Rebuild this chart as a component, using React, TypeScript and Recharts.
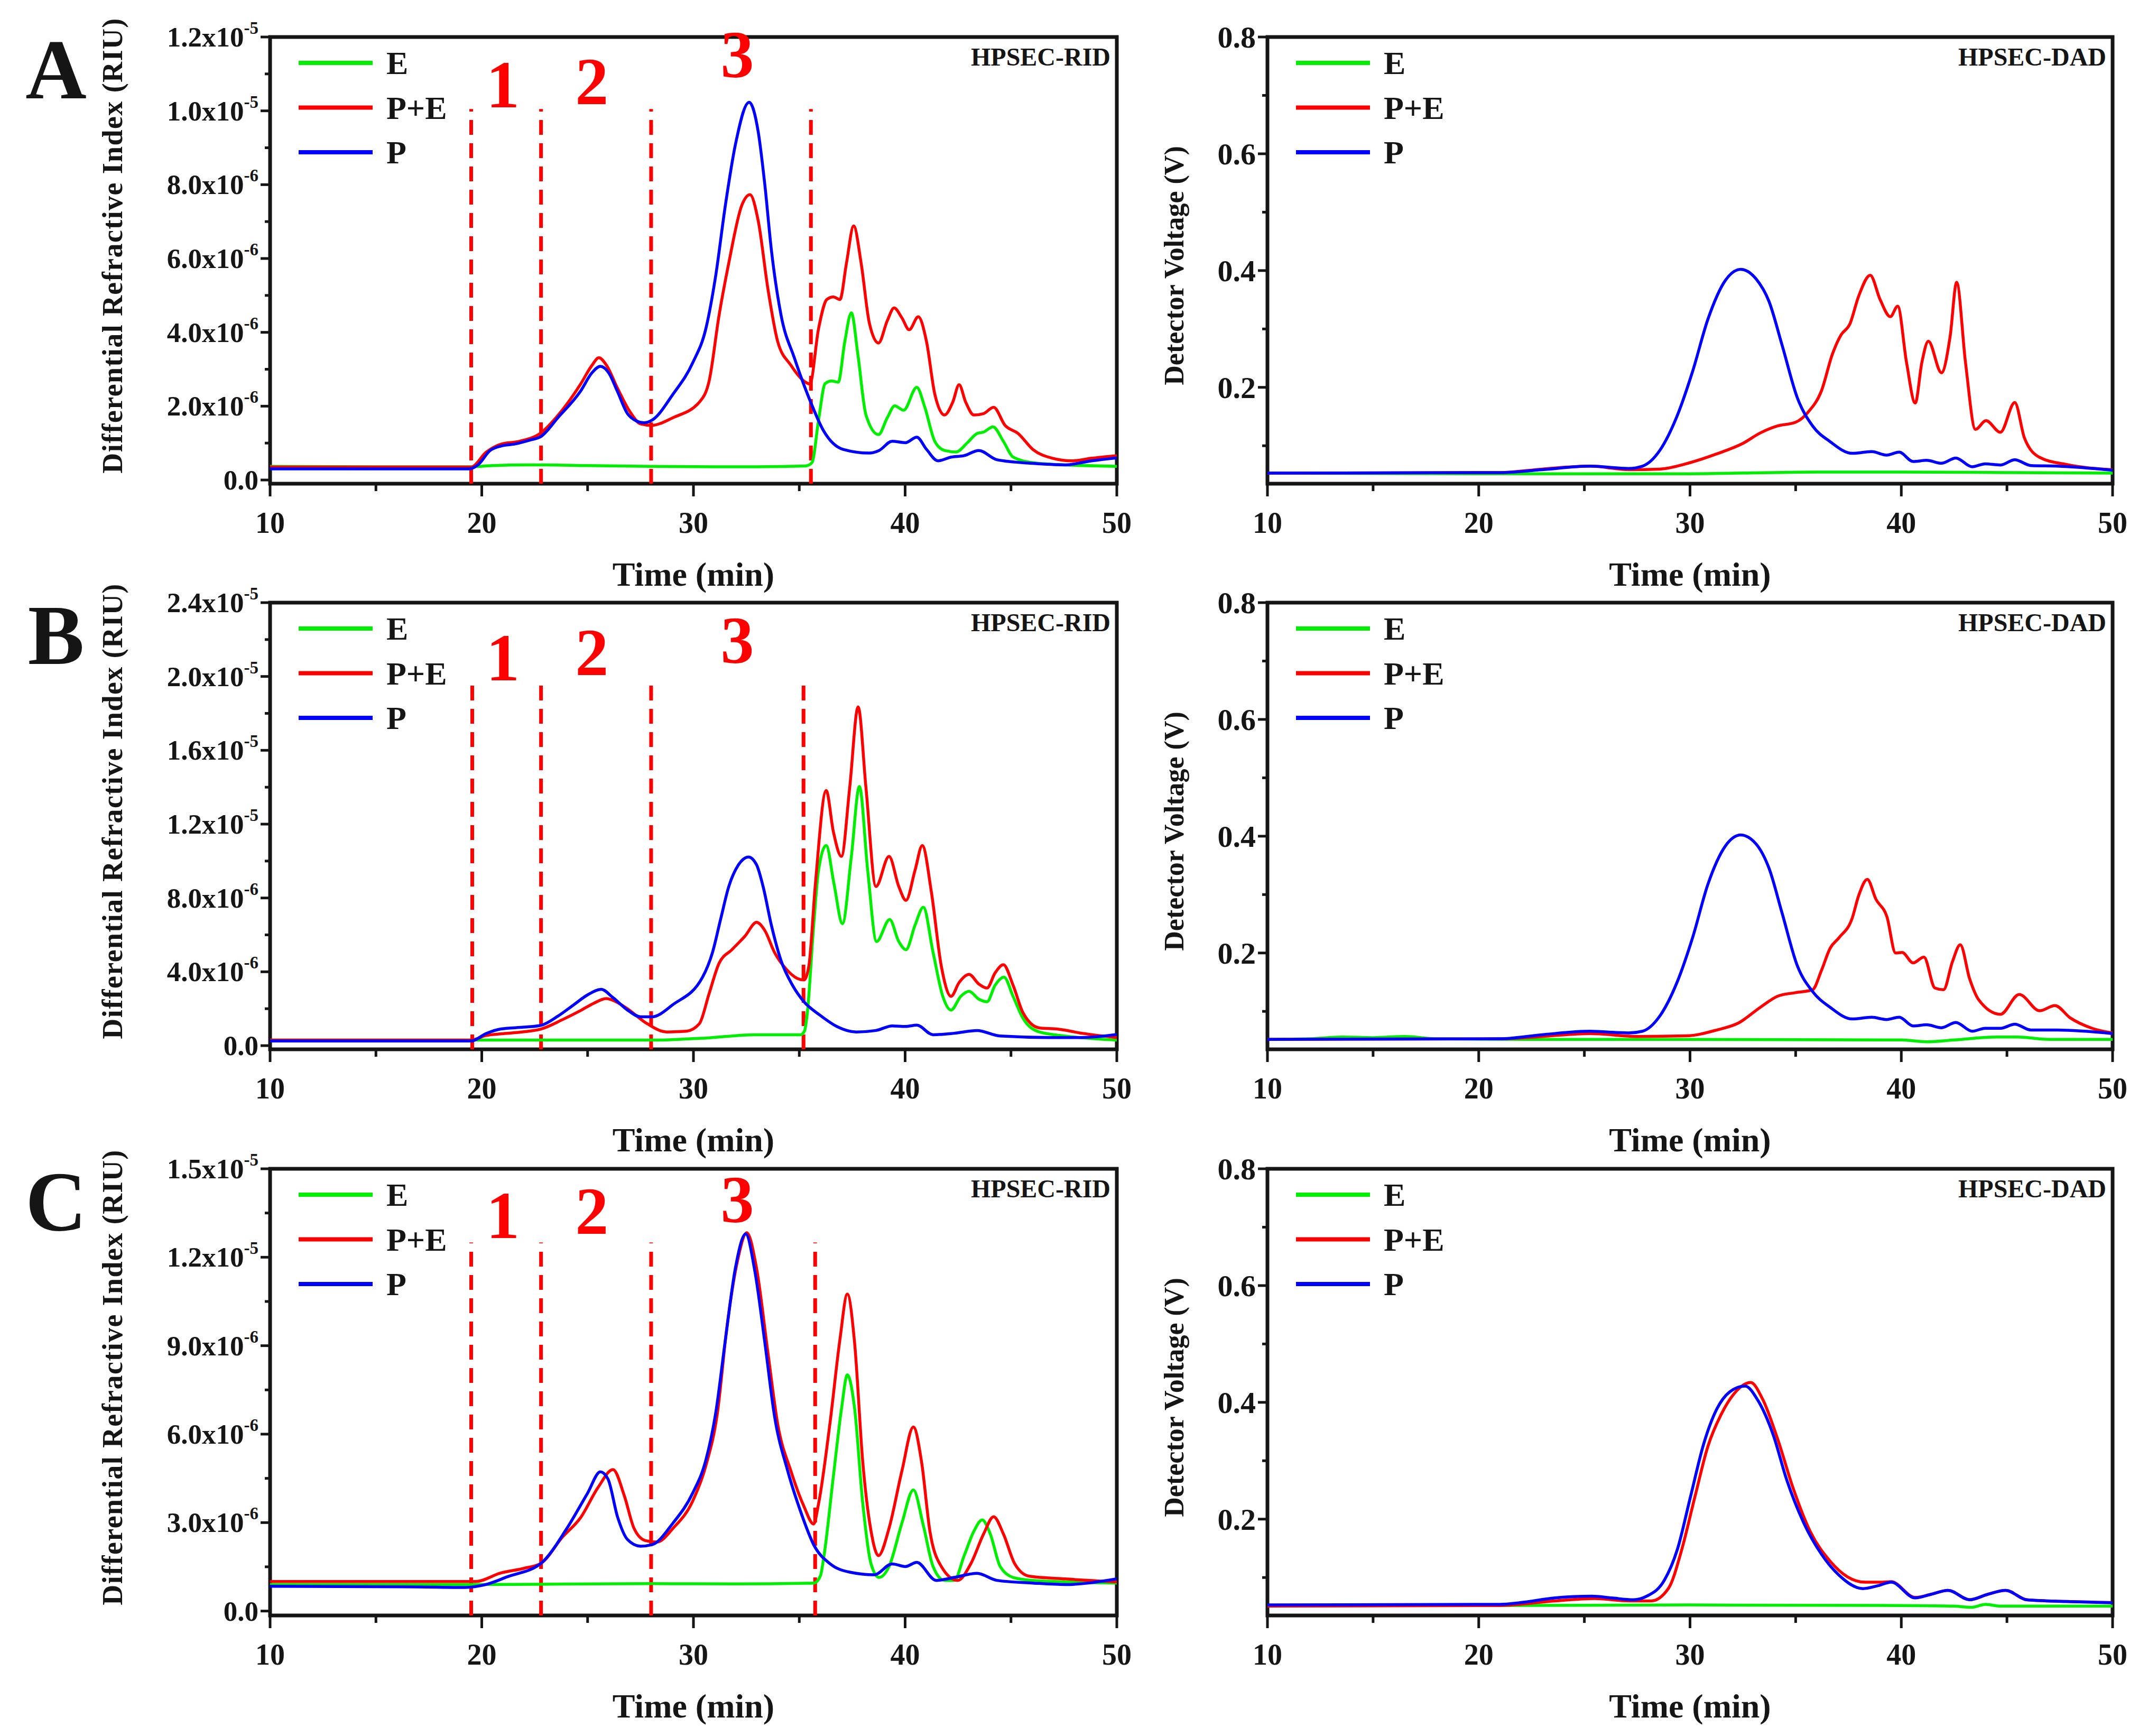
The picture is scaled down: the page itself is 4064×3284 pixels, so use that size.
import React from 'react';
import {
  Legend,
  Line,
  LineChart,
  ReferenceArea,
  ReferenceDot,
  ReferenceLine,
  XAxis,
  YAxis,
} from 'recharts';

type Pt = [number, number];

const FONT = '"Liberation Serif", "Times New Roman", serif';
const INK = '#151515';
const CUT_RED = '#ff0000';
const SERIES_NAMES = ['E', 'P+E', 'P'];
const SERIES_COLORS = ['#00ee00', '#ff0000', '#0000ff'];

const timeTicks = [10, 15, 20, 25, 30, 35, 40, 45, 50];
const ridTicksA = [0, 1, 2, 3, 4, 5, 6, 7, 8, 9, 10, 11, 12];
const ridTicksB = [0, 2, 4, 6, 8, 10, 12, 14, 16, 18, 20, 22, 24];
const ridTicksC = [0, 1.5, 3, 4.5, 6, 7.5, 9, 10.5, 12, 13.5, 15];
const dadTicks = [0.1, 0.2, 0.3, 0.4, 0.5, 0.6, 0.7, 0.8];

// fraction boundaries (min) and the fraction numbers above them
const cutsA = [19.5, 22.8, 28, 35.55];
const cutsB = [19.55, 22.8, 28, 35.2];
const cutsC = [19.5, 22.8, 28, 35.75];
const fractionNames = ['1', '2', '3'];
const fractionTimes = [21.0, 25.2, 32.07];
const fractionHeightsA = [10.7, 10.78, 11.52];
const fractionHeightsB = [20.99, 21.28, 21.95];
const fractionHeightsC = [13.4, 13.54, 13.95];

// RID traces, [time (min), signal in 1e-6 RIU]
const ridA_E: Pt[] = [
  [10, 0.37], [15, 0.36], [19.5, 0.36], [20.5, 0.39], [22, 0.41], [23, 0.41], [25, 0.39], [28, 0.37],
  [31, 0.36], [33, 0.36], [35.3, 0.38], [35.6, 0.47], [35.91, 1.62], [36.22, 2.61], [36.53, 2.68],
  [36.84, 2.65], [37.15, 3.75], [37.46, 4.53], [37.77, 3.39], [38.15, 1.76], [38.74, 1.23], [39.16, 1.69],
  [39.51, 2.01], [39.93, 1.89], [40.55, 2.51], [40.93, 1.97], [41.4, 1.05], [41.86, 0.8], [42.4, 0.76],
  [42.94, 1.01], [43.4, 1.26], [43.71, 1.3], [44.15, 1.44], [44.64, 1.05], [45.1, 0.62], [46.03, 0.47],
  [47.57, 0.41], [50, 0.37],
];
const ridA_PE: Pt[] = [
  [10, 0.35], [19.5, 0.35], [20.2, 0.75], [20.9, 0.97], [21.8, 1.05], [22.8, 1.28], [23.6, 1.75],
  [24.67, 2.6], [25.2, 3.1], [25.53, 3.31], [25.9, 3.1], [26.4, 2.5], [27.0, 1.85], [27.5, 1.52],
  [28.0, 1.48], [29.04, 1.69], [30.28, 2.11], [30.74, 2.68], [31.21, 4.46], [31.67, 5.88], [32.29, 7.45],
  [32.67, 7.73], [33.06, 7.02], [33.52, 5.17], [33.98, 3.75], [34.6, 3.11], [35.22, 2.68], [35.5, 2.6],
  [35.91, 4.1], [36.3, 4.89], [36.61, 4.96], [36.92, 4.89], [37.23, 5.88], [37.57, 6.88], [37.92, 5.88],
  [38.31, 4.25], [38.74, 3.71], [39.16, 4.32], [39.48, 4.66], [39.85, 4.39], [40.19, 4.07], [40.62, 4.42],
  [41.01, 3.75], [41.4, 2.33], [41.86, 1.76], [42.25, 2.11], [42.55, 2.58], [42.86, 2.11], [43.25, 1.76],
  [43.71, 1.8], [44.18, 1.97], [44.72, 1.48], [45.34, 1.26], [46.03, 0.83], [46.96, 0.59], [47.88, 0.52],
  [48.81, 0.59], [50, 0.66],
];
const ridA_P: Pt[] = [
  [10, 0.3], [19.4, 0.3], [19.8, 0.4], [20.4, 0.8], [20.9, 0.92], [21.6, 0.98], [22.27, 1.08],
  [22.8, 1.18], [23.6, 1.69], [24.67, 2.41], [25.2, 2.9], [25.6, 3.08], [26.0, 2.9], [26.4, 2.41],
  [26.88, 1.8], [27.3, 1.6], [27.65, 1.55], [28.04, 1.62], [29.04, 2.33], [29.97, 3.18], [30.59, 4.11],
  [31.05, 5.53], [31.51, 7.45], [31.98, 9.08], [32.63, 10.23], [33.06, 9.43], [33.37, 8.01], [33.68, 6.24],
  [34.14, 4.46], [34.76, 3.32], [35.53, 2.12], [36.15, 1.33], [37.07, 0.83], [38.31, 0.73], [38.77, 0.8],
  [39.39, 1.05], [40.01, 1.01], [40.55, 1.16], [41.01, 0.83], [41.55, 0.52], [42.17, 0.62], [42.79, 0.66],
  [43.48, 0.8], [44.33, 0.55], [46.03, 0.45], [47.57, 0.41], [48.81, 0.52], [50, 0.6],
];

const ridB_E: Pt[] = [
  [10, 0.3], [20, 0.3], [25, 0.3], [28, 0.3], [30.59, 0.41], [32.9, 0.59], [35.07, 0.59], [35.25, 0.8],
  [35.38, 1.78], [35.68, 6.53], [35.91, 9.51], [36.27, 10.84], [36.64, 8.76], [37.04, 6.61], [37.46, 10.25],
  [37.84, 14.04], [38.23, 9.51], [38.65, 5.64], [39.27, 6.83], [39.7, 5.64], [40.04, 5.2], [40.47, 6.53],
  [40.86, 7.5], [41.32, 5.05], [41.78, 2.67], [42.17, 1.93], [42.63, 2.67], [43.02, 2.94], [43.48, 2.52],
  [43.87, 2.38], [44.25, 3.27], [44.67, 3.71], [45.1, 2.67], [45.57, 1.48], [46.34, 0.74], [47.57, 0.52],
  [50, 0.3],
];
const ridB_PE: Pt[] = [
  [10, 0.3], [19.5, 0.3], [20.2, 0.55], [20.9, 0.64], [22, 0.75], [22.8, 0.9], [23.8, 1.4], [24.67, 1.9],
  [25.3, 2.3], [25.88, 2.55], [26.3, 2.4], [26.88, 2.0], [27.81, 1.19], [28.73, 0.74], [29.66, 0.78],
  [30.28, 1.19], [30.74, 2.82], [31.21, 4.46], [31.82, 5.2], [32.44, 5.94], [32.98, 6.68], [33.37, 6.24],
  [33.83, 5.05], [34.37, 4.16], [34.91, 3.64], [35.22, 3.56], [35.45, 4.3], [35.76, 8.76], [36.27, 13.82],
  [36.61, 11.59], [36.99, 10.25], [37.38, 13.97], [37.78, 18.35], [38.15, 13.97], [38.62, 8.62],
  [39.24, 10.25], [39.7, 8.62], [40.04, 7.87], [40.47, 9.51], [40.81, 10.84], [41.24, 8.32], [41.71, 4.3],
  [42.17, 2.67], [42.55, 3.42], [43.02, 3.86], [43.48, 3.34], [43.87, 3.12], [44.25, 3.94], [44.64, 4.38],
  [45.1, 3.27], [45.57, 1.78], [46.34, 0.96], [47.26, 0.89], [48.35, 0.67], [50, 0.44],
];
const ridB_P: Pt[] = [
  [10, 0.25], [19.5, 0.25], [20.2, 0.65], [20.9, 0.9], [22, 1.0], [22.8, 1.1], [23.6, 1.6], [24.33, 2.2],
  [25.0, 2.75], [25.64, 3.05], [26.2, 2.6], [26.88, 1.93], [27.5, 1.56], [28.04, 1.56], [29.04, 2.23],
  [30.43, 3.71], [30.9, 5.05], [31.28, 6.83], [31.67, 8.62], [32.13, 9.8], [32.6, 10.22], [32.98, 9.8],
  [33.29, 8.62], [33.68, 6.53], [34.14, 4.6], [34.68, 3.27], [35.22, 2.38], [36.0, 1.63], [36.77, 1.04],
  [37.69, 0.74], [38.62, 0.82], [39.39, 1.07], [40.01, 1.04], [40.55, 1.11], [41.32, 0.59], [42.32, 0.67],
  [43.4, 0.82], [44.48, 0.52], [46.8, 0.44], [48.35, 0.44], [50, 0.6],
];

const ridC_E: Pt[] = [
  [10, 0.9], [20, 0.9], [28, 0.93], [32, 0.92], [35.7, 0.95], [36.0, 1.2], [36.15, 1.79], [36.61, 4.57],
  [37.0, 6.89], [37.27, 8.01], [37.61, 6.89], [38.0, 3.64], [38.39, 1.6], [38.77, 1.14], [39.24, 1.51],
  [39.85, 2.99], [40.39, 4.11], [40.86, 2.9], [41.32, 1.51], [41.86, 1.04], [42.32, 1.04], [42.79, 1.88],
  [43.25, 2.71], [43.64, 3.09], [44.02, 2.62], [44.49, 1.51], [45.1, 1.14], [46.03, 1.04], [50, 0.95],
];
const ridC_PE: Pt[] = [
  [10, 1.0], [19.7, 1.0], [20.9, 1.29], [22, 1.45], [22.8, 1.62], [23.8, 2.5], [24.67, 3.17], [25.5, 4.2],
  [26.2, 4.8], [26.73, 3.92], [27.19, 2.81], [27.73, 2.39], [28.27, 2.34], [29.04, 2.81], [29.97, 3.74],
  [30.59, 4.94], [31.13, 6.71], [31.59, 9.68], [32.06, 11.81], [32.52, 12.83], [32.98, 11.63], [33.52, 8.75],
  [33.98, 6.34], [34.6, 4.76], [35.22, 3.55], [35.68, 2.95], [35.91, 3.64], [36.46, 6.43], [36.92, 9.21],
  [37.27, 10.75], [37.61, 9.12], [38.0, 5.04], [38.39, 2.71], [38.74, 1.88], [39.24, 2.81], [39.85, 4.76],
  [40.39, 6.24], [40.78, 5.04], [41.17, 2.71], [41.71, 1.51], [42.48, 1.04], [43.1, 1.6], [43.71, 2.62],
  [44.18, 3.2], [44.64, 2.62], [45.18, 1.6], [45.87, 1.18], [47.57, 1.09], [50, 0.99],
];
const ridC_P: Pt[] = [
  [10, 0.84], [17, 0.82], [19.2, 0.8], [20.2, 0.9], [21.2, 1.16], [22.8, 1.62], [24.0, 2.78], [25.0, 4.0],
  [25.6, 4.72], [25.96, 4.48], [26.42, 3.18], [26.88, 2.43], [27.5, 2.2], [28.04, 2.25], [29.04, 2.99],
  [29.97, 4.01], [30.59, 5.13], [31.05, 6.71], [31.51, 9.21], [31.98, 11.63], [32.47, 12.79], [32.9, 11.53],
  [33.37, 9.12], [33.83, 6.61], [34.45, 4.76], [35.07, 3.36], [35.68, 2.25], [36.46, 1.6], [37.38, 1.32],
  [38.54, 1.23], [39.39, 1.6], [40.01, 1.51], [40.55, 1.65], [41.47, 1.04], [42.32, 1.14], [43.4, 1.28],
  [44.33, 1.04], [46.03, 0.95], [47.57, 0.9], [50, 1.09],
];

// DAD traces, [time (min), detector voltage (V)]
const dadA_E: Pt[] = [[10, 0.053], [20, 0.052], [30, 0.052], [36, 0.055], [40, 0.055], [45, 0.054], [50, 0.053]];
const dadA_PE: Pt[] = [
  [10, 0.053], [21, 0.054], [23.0, 0.06], [25.27, 0.065], [27.1, 0.059], [28.57, 0.06], [30.0, 0.071],
  [31.26, 0.086], [32.5, 0.104], [33.33, 0.122], [34.15, 0.134], [34.98, 0.14], [35.6, 0.158], [36.22, 0.194],
  [36.74, 0.257], [37.15, 0.29], [37.56, 0.308], [37.98, 0.356], [38.53, 0.392], [39.0, 0.35], [39.48, 0.321],
  [39.83, 0.339], [40.25, 0.242], [40.66, 0.173], [40.97, 0.242], [41.28, 0.279], [41.9, 0.225],
  [42.31, 0.287], [42.62, 0.38], [43.04, 0.242], [43.51, 0.128], [44.01, 0.143], [44.69, 0.123],
  [45.37, 0.174], [45.83, 0.113], [46.55, 0.08], [47.79, 0.068], [50, 0.059],
];
const dadA_P: Pt[] = [
  [10, 0.053], [21, 0.054], [23.0, 0.059], [25.27, 0.065], [27.1, 0.061], [27.75, 0.065], [28.57, 0.092],
  [29.4, 0.152], [30.12, 0.227], [30.85, 0.317], [31.67, 0.383], [32.4, 0.402], [33.12, 0.386],
  [33.74, 0.347], [34.36, 0.272], [35.08, 0.182], [35.8, 0.134], [36.63, 0.107], [37.67, 0.087],
  [38.6, 0.09], [39.3, 0.084], [39.9, 0.089], [40.56, 0.073], [41.2, 0.075], [41.9, 0.07], [42.58, 0.079],
  [43.35, 0.064], [43.97, 0.069], [44.7, 0.067], [45.37, 0.076], [46.14, 0.066], [47.38, 0.065], [50, 0.058],
];

const dadB_E: Pt[] = [
  [10, 0.052], [12, 0.053], [13.5, 0.056], [15, 0.055], [16.5, 0.057], [18, 0.053], [22, 0.052], [30, 0.052],
  [40, 0.051], [41.2, 0.048], [42.5, 0.051], [44.5, 0.056], [45.5, 0.056], [47, 0.052], [50, 0.052],
];
const dadB_PE: Pt[] = [
  [10, 0.052], [21, 0.053], [23, 0.057], [25.27, 0.062], [27.54, 0.057], [29.81, 0.058], [31.26, 0.068],
  [32.29, 0.08], [33.33, 0.107], [34.15, 0.126], [34.98, 0.132], [35.8, 0.137], [36.22, 0.17], [36.63, 0.208],
  [37.05, 0.226], [37.67, 0.259], [37.98, 0.298], [38.39, 0.326], [38.8, 0.292], [39.32, 0.262], [39.73, 0.2],
  [40.04, 0.201], [40.56, 0.183], [41.07, 0.193], [41.59, 0.14], [42.0, 0.137], [42.42, 0.185],
  [42.79, 0.214], [43.24, 0.155], [43.66, 0.12], [44.69, 0.095], [45.58, 0.129], [46.55, 0.101],
  [47.27, 0.11], [47.99, 0.089], [49.03, 0.071], [50, 0.063],
];
const dadB_P: Pt[] = [
  [10, 0.052], [21, 0.053], [23.0, 0.06], [25.27, 0.066], [27.1, 0.063], [27.75, 0.066], [28.57, 0.092],
  [29.4, 0.151], [30.12, 0.226], [30.85, 0.318], [31.67, 0.383], [32.4, 0.402], [33.12, 0.387],
  [33.74, 0.345], [34.36, 0.268], [35.08, 0.178], [35.8, 0.134], [36.63, 0.107], [37.67, 0.087],
  [38.6, 0.09], [39.3, 0.086], [39.9, 0.09], [40.56, 0.075], [41.2, 0.077], [41.9, 0.072], [42.58, 0.081],
  [43.35, 0.066], [43.97, 0.071], [44.7, 0.071], [45.37, 0.078], [46.14, 0.068], [47.38, 0.068], [50, 0.062],
];

const dadC_E: Pt[] = [
  [10, 0.052], [20, 0.052], [30, 0.053], [40, 0.052], [42.5, 0.051], [43.3, 0.049], [44.0, 0.054],
  [44.7, 0.051], [46, 0.051], [50, 0.051],
];
const dadC_PE: Pt[] = [
  [10, 0.051], [21, 0.052], [23.6, 0.06], [25.48, 0.064], [27.13, 0.06], [28.16, 0.06], [28.99, 0.082],
  [29.61, 0.148], [30.23, 0.238], [30.85, 0.325], [31.47, 0.379], [32.09, 0.415], [32.87, 0.434],
  [33.43, 0.406], [34.15, 0.337], [34.88, 0.253], [35.7, 0.178], [36.63, 0.128], [37.46, 0.101],
  [38.29, 0.092], [39.0, 0.092], [39.52, 0.093], [40.66, 0.066], [41.38, 0.071], [42.21, 0.078],
  [43.24, 0.062], [44.07, 0.071], [44.94, 0.078], [45.93, 0.062], [47.79, 0.059], [50, 0.057],
];
const dadC_P: Pt[] = [
  [10, 0.053], [21, 0.054], [21.96, 0.057], [23.6, 0.065], [25.37, 0.068], [26.3, 0.065], [27.33, 0.062],
  [27.95, 0.068], [28.78, 0.095], [29.4, 0.148], [30.02, 0.238], [30.64, 0.328], [31.26, 0.388],
  [31.88, 0.418], [32.6, 0.428], [33.22, 0.403], [33.95, 0.343], [34.57, 0.268], [35.39, 0.193],
  [36.22, 0.14], [37.05, 0.104], [38.18, 0.081], [38.9, 0.086], [39.52, 0.092], [40.66, 0.065],
  [41.38, 0.071], [42.21, 0.078], [43.24, 0.062], [44.07, 0.071], [44.94, 0.078], [45.93, 0.062],
  [47.79, 0.059], [50, 0.057],
];

// page geometry
const ROW_TOPS = [0, 1070, 2141];
const CHART_H = 1140;
const PLOT_TOP = 70;
const PLOT_H = 845;
const LEFT_W = 2150;
const RIGHT_X = 2150;
const RIGHT_W = 1914;
// axes get a 1px band so they still render; ticks are drawn by hand
const AXIS_BAND = 1;

const toRows = (pts: Pt[]) => pts.map(([t, v]) => ({ t, v }));

const textStyle = { fontFamily: FONT, fontWeight: 700, fill: INK } as const;

const TimeTick = (props: any) => {
  const { x, y, payload } = props;
  const v = payload.value as number;
  const major = v % 10 === 0;
  return (
    <g>
      <line x1={x} x2={x} y1={y} y2={y + (major ? 24 : 14)} stroke={INK} strokeWidth={5} />
      {major && (
        <text x={x} y={y + 93} textAnchor="middle" fontSize={56} {...textStyle}>
          {v}
        </text>
      )}
    </g>
  );
};

// 1e-6 RIU units shown as "m.mx10^e"
const makeRidTick = (step: number) => (props: any) => {
  const { x, y, payload } = props;
  const v = payload.value as number;
  const major = Math.abs(v / step - Math.round(v / step)) < 1e-6;
  let mant = '';
  let exp = '';
  if (major && v !== 0) {
    mant = v >= 10 ? (v / 10).toFixed(1) : v.toFixed(1);
    exp = v >= 10 ? '-5' : '-6';
  }
  return (
    <g>
      <line x1={x} x2={x - (major ? 18 : 10)} y1={y} y2={y} stroke={INK} strokeWidth={5} />
      {major && (
        <text x={x - 22} y={y + 18} textAnchor="end" fontSize={53} {...textStyle}>
          {v === 0 ? (
            '0.0'
          ) : (
            <>
              <tspan>{mant}x10</tspan>
              <tspan dy={-24} fontSize={33}>{exp}</tspan>
            </>
          )}
        </text>
      )}
    </g>
  );
};

const DadTick = (props: any) => {
  const { x, y, payload } = props;
  const v = payload.value as number;
  const major = Math.round(v * 10) % 2 === 0;
  return (
    <g>
      <line x1={x} x2={x - (major ? 18 : 10)} y1={y} y2={y} stroke={INK} strokeWidth={5} />
      {major && (
        <text x={x - 22} y={y + 20} textAnchor="end" fontSize={58} {...textStyle}>
          {v.toFixed(1)}
        </text>
      )}
    </g>
  );
};

const timeTitle = (props: any) => {
  const vb = props.viewBox ?? {};
  return (
    <text x={vb.x + vb.width / 2} y={vb.y + 193} textAnchor="middle" fontSize={64} {...textStyle}>
      Time (min)
    </text>
  );
};

const makeYTitle = (text: string, dx: number, dy: number, size: number, spacing: number) => (props: any) => {
  const vb = props.viewBox ?? {};
  const cx = vb.x + vb.width - dx;
  const cy = vb.y + vb.height / 2 + dy;
  return (
    <text
      x={cx}
      y={cy}
      transform={`rotate(-90 ${cx} ${cy})`}
      textAnchor="middle"
      dominantBaseline="central"
      fontSize={size}
      letterSpacing={spacing}
      {...textStyle}
    >
      {text}
    </text>
  );
};

const makeTag = (text: string) => (props: any) => {
  const vb = props.viewBox ?? {};
  return (
    <text x={vb.x + vb.width - 12} y={vb.y + 54} textAnchor="end" fontSize={48} {...textStyle}>
      {text}
    </text>
  );
};

const fractionLabel = (text: string) => (props: any) => {
  const vb = props.viewBox ?? {};
  return (
    <text x={vb.x} y={vb.y + 42} textAnchor="middle" fontSize={126} fontFamily={FONT} fontWeight={700} fill={CUT_RED}>
      {text}
    </text>
  );
};

const renderLegend = (props: any) => {
  const payload: any[] = props.payload ?? [];
  const items = SERIES_NAMES.map(
    (name, i) => payload.find((p) => p.value === name) ?? { value: name, color: SERIES_COLORS[i] },
  );
  return (
    <svg width={340} height={260} style={{ overflow: 'visible' }}>
      {items.map((it, i) => (
        <g key={it.value}>
          <line x1={0} x2={140} y1={40 + i * 84.5} y2={40 + i * 84.5} stroke={it.color} strokeWidth={8} />
          <text x={166} y={40 + i * 84.5 + 21} fontSize={62} {...textStyle}>
            {it.value}
          </text>
        </g>
      ))}
    </svg>
  );
};

type PanelProps = {
  left: number;
  top: number;
  width: number;
  plotLeft: number;
  plotRight: number;
  series: Pt[][];
  yDomain: [number, number];
  yTicks: number[];
  yTick: (p: any) => React.ReactElement;
  yTitle: (p: any) => React.ReactElement;
  tag: string;
  cuts?: number[];
  cutTop?: number;
  fractionHeights?: number[];
};

function Panel(p: PanelProps) {
  const legendLeft = p.plotLeft + 54;
  return (
    <div style={{ position: 'absolute', left: p.left, top: p.top }}>
      <LineChart
        width={p.width}
        height={CHART_H}
        margin={{
          top: PLOT_TOP,
          right: p.width - p.plotRight,
          bottom: CHART_H - PLOT_TOP - PLOT_H - AXIS_BAND,
          left: p.plotLeft - AXIS_BAND,
        }}
      >
        <XAxis
          type="number"
          dataKey="t"
          domain={[10, 50]}
          ticks={timeTicks}
          interval={0}
          height={AXIS_BAND}
          tickSize={0}
          tickMargin={0}
          axisLine={false}
          tickLine={false}
          tick={TimeTick}
          allowDataOverflow
          label={timeTitle}
        />
        <YAxis
          type="number"
          domain={p.yDomain}
          ticks={p.yTicks}
          interval={0}
          width={AXIS_BAND}
          tickSize={0}
          tickMargin={0}
          axisLine={false}
          tickLine={false}
          tick={p.yTick}
          allowDataOverflow
          label={p.yTitle}
        />
        {(p.cuts ?? []).map((c) => (
          <ReferenceLine
            key={c}
            segment={[{ x: c, y: p.yDomain[0] }, { x: c, y: p.cutTop ?? p.yDomain[1] }]}
            stroke={CUT_RED}
            strokeWidth={7}
            strokeDasharray="28 16"
            ifOverflow="visible"
          />
        ))}
        {(p.fractionHeights ?? []).map((h, i) => (
          <ReferenceDot
            key={fractionNames[i]}
            x={fractionTimes[i]}
            y={h}
            r={0}
            fill="none"
            stroke="none"
            ifOverflow="visible"
            label={fractionLabel(fractionNames[i])}
          />
        ))}
        {p.series.map((pts, i) => (
          <Line
            key={SERIES_NAMES[i]}
            name={SERIES_NAMES[i]}
            data={toRows(pts)}
            dataKey="v"
            type="monotone"
            stroke={SERIES_COLORS[i]}
            strokeWidth={5.5}
            dot={false}
            activeDot={false}
            isAnimationActive={false}
          />
        ))}
        <ReferenceArea
          x1={10}
          x2={50}
          y1={p.yDomain[0]}
          y2={p.yDomain[1]}
          fill="none"
          fillOpacity={0}
          stroke={INK}
          strokeWidth={7}
          ifOverflow="visible"
          label={makeTag(p.tag)}
        />
        <Legend
          layout="horizontal"
          verticalAlign="middle"
          align="center"
          content={renderLegend}
          wrapperStyle={{ left: legendLeft, top: 79, width: 340, height: 260 }}
        />
      </LineChart>
    </div>
  );
}

const ridRows = [
  { series: [ridA_E, ridA_PE, ridA_P], domain: [-0.1, 12] as [number, number], ticks: ridTicksA, step: 2, cuts: cutsA, cutTop: 10.05, heights: fractionHeightsA },
  { series: [ridB_E, ridB_PE, ridB_P], domain: [-0.2, 24] as [number, number], ticks: ridTicksB, step: 4, cuts: cutsB, cutTop: 19.8, heights: fractionHeightsB },
  { series: [ridC_E, ridC_PE, ridC_P], domain: [-0.15, 15] as [number, number], ticks: ridTicksC, step: 3, cuts: cutsC, cutTop: 12.5, heights: fractionHeightsC },
];
const dadRows = [
  [dadA_E, dadA_PE, dadA_P],
  [dadB_E, dadB_PE, dadB_P],
  [dadC_E, dadC_PE, dadC_P],
];
const panelLetters = ['A', 'B', 'C'];

const ridTitle = makeYTitle('Differential Refractive Index (RIU)', 298, -28, 54, 1.4);
const dadTitle = makeYTitle('Detector Voltage (V)', 177, 10, 52, 0);

export default function App() {
  return (
    <div style={{ position: 'relative', width: 4064, height: 3284, background: '#fff', overflow: 'hidden' }}>
      <style>{'body{margin:0}'}</style>
      <svg width={4064} height={3284} style={{ position: 'absolute', left: 0, top: 0 }}>
        {panelLetters.map((l, i) => (
          <text key={l} x={106} y={ROW_TOPS[i] + 186} textAnchor="middle" fontSize={160} {...textStyle}>
            {l}
          </text>
        ))}
      </svg>
      {ridRows.map((r, i) => (
        <Panel
          key={`rid-${i}`}
          left={0}
          top={ROW_TOPS[i]}
          width={LEFT_W}
          plotLeft={511}
          plotRight={2113}
          series={r.series}
          yDomain={r.domain}
          yTicks={r.ticks}
          yTick={makeRidTick(r.step)}
          yTitle={ridTitle}
          tag="HPSEC-RID"
          cuts={r.cuts}
          cutTop={r.cutTop}
          fractionHeights={r.heights}
        />
      ))}
      {dadRows.map((s, i) => (
        <Panel
          key={`dad-${i}`}
          left={RIGHT_X}
          top={ROW_TOPS[i]}
          width={RIGHT_W}
          plotLeft={248}
          plotRight={1847}
          series={s}
          yDomain={[0.035, 0.8]}
          yTicks={dadTicks}
          yTick={DadTick}
          yTitle={dadTitle}
          tag="HPSEC-DAD"
        />
      ))}
    </div>
  );
}
